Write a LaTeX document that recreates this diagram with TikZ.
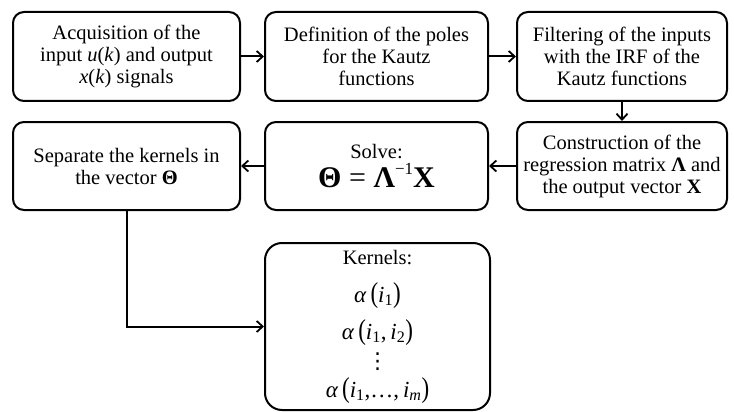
\documentclass[tikz,border=0pt]{standalone}
\usepackage{fontspec}
\setmainfont{Liberation Serif}
\newfontfamily\symfont{DejaVu Sans}
\usetikzlibrary{arrows.meta}
\tikzset{
  blk/.style={draw,line width=2pt,rounded corners=11pt,align=center,inner sep=0pt,
    font=\fontsize{20.5}{22}\selectfont},
  flow/.style={line width=2pt,-{Straight Barb[length=6pt,width=11pt,line width=1.8pt]}}
}
\newcommand{\vi}[1]{\textit{#1}}
\newcommand{\kargs}[1]{\vi{α}\,\scalebox{1}[1.25]{(}\vi{i}\textsubscript{1}#1\scalebox{1}[1.25]{)}}
\begin{document}
\begin{tikzpicture}[x=1pt,y=-1pt]
\useasboundingbox (0,0) rectangle (734,412);
% first row
\node[blk,minimum width=227pt,minimum height=89pt] (acq) at (126.5,56.5)
  {Acquisition of the\\input \vi{u}(\vi{k}) and output\\\vi{x}(\vi{k}) signals};
\node[blk,minimum width=223pt,minimum height=89pt] (pol) at (376.5,56.5)
  {Definition of the poles\\for the Kautz\\functions};
\node[blk,minimum width=210pt,minimum height=89pt] (fil) at (622,56.5)
  {Filtering of the inputs\\with the IRF of the\\Kautz functions};
% second row
\node[blk,minimum width=210pt,minimum height=88pt] (con) at (622,166)
  {Construction of the\\regression matrix \textbf{Λ} and\\the output vector \textbf{X}};
\node[blk,minimum width=223pt,minimum height=88pt] (sol) at (376.5,166)
  {Solve:\\[3pt]{\fontsize{30}{30}\selectfont\textbf{Θ} = \textbf{Λ}\raisebox{0.42em}{\fontsize{17}{17}\selectfont −1}\textbf{X}}};
\node[blk,minimum width=227pt,minimum height=88pt] (sep) at (126.5,166)
  {Separate the kernels in\\the vector \textbf{Θ}};
% kernels
\node[blk,rounded corners=17pt,minimum width=225pt,minimum height=167pt] (ker) at (377.5,326.5)
  {Kernels:\\[16pt]
   {\fontsize{23}{23}\selectfont\kargs{}}\\[10pt]
   {\fontsize{23}{23}\selectfont\kargs{,\,\vi{i}\textsubscript{2}}}\\[7pt]
   {\fontsize{22}{22}\selectfont\symfont ⋮}\\[7pt]
   {\fontsize{23}{23}\selectfont\kargs{,…,\,\vi{i}\textsubscript{\vi{m}}}}};
\draw[flow] (acq) -- (pol);
\draw[flow] (pol) -- (fil);
\draw[flow] (fil) -- (con);
\draw[flow] (con) -- (sol);
\draw[flow] (sol) -- (sep);
\draw[flow] (sep.south) |- (ker.west);
\end{tikzpicture}
\end{document}
